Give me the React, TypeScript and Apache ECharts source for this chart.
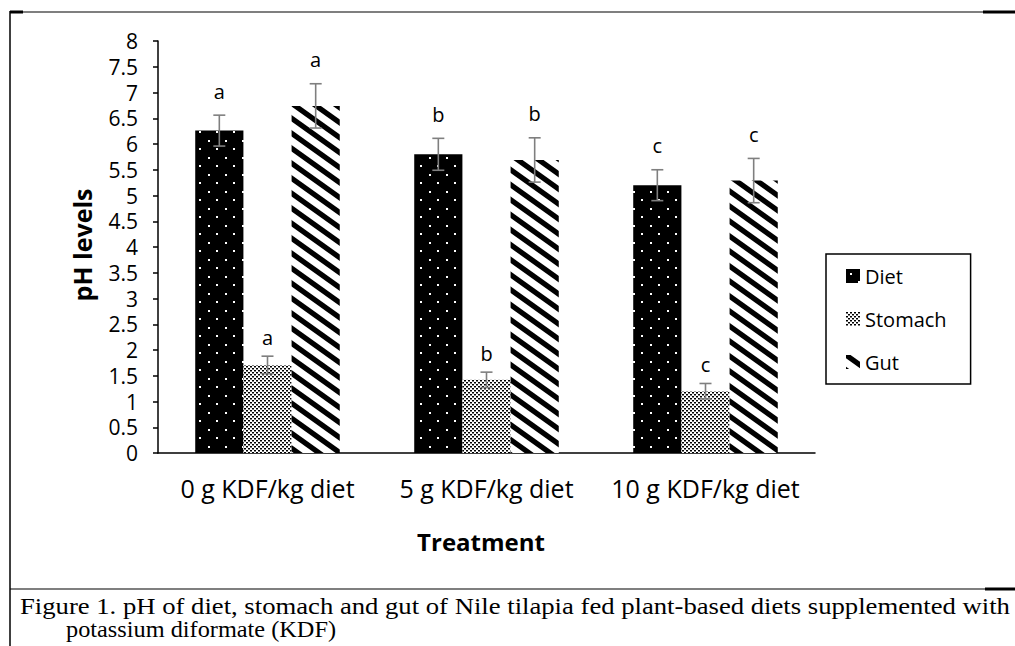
import React, { useEffect, useRef } from 'react';
import * as echarts from 'echarts';

const categories = ['0 g KDF/kg diet', '5 g KDF/kg diet', '10 g KDF/kg diet'];
const seriesNames = ['Diet', 'Stomach', 'Gut'];
const dietValues = [6.26, 5.8, 5.2];
const stomachValues = [1.71, 1.42, 1.2];
const gutValues = [6.74, 5.69, 5.29];
const dietErrors = [0.3, 0.31, 0.3];
const stomachErrors = [0.17, 0.15, 0.15];
const gutErrors = [0.43, 0.43, 0.43];
const dietLetters = ['a', 'b', 'c'];
const stomachLetters = ['a', 'b', 'c'];
const gutLetters = ['a', 'b', 'c'];
const yMin = 0;
const yMax = 8;
const yInterval = 0.5;
const yAxisTitle = 'pH levels';
const xAxisTitle = 'Treatment';
const captionLine1 = 'Figure 1. pH of diet, stomach and gut of Nile tilapia fed plant-based diets supplemented with';
const captionLine2 = 'potassium diformate (KDF)';

const BAR_CAT_GAP = 0.34;
const SANS = '"Open Sans", sans-serif';

function makeCanvas(w: number, h: number) {
  const c = document.createElement('canvas');
  c.width = w;
  c.height = h;
  return c;
}

function dietPattern() {
  const c = makeCanvas(17, 17);
  const ctx = c.getContext('2d')!;
  ctx.fillStyle = '#000';
  ctx.fillRect(0, 0, 17, 17);
  ctx.fillStyle = '#fff';
  ctx.fillRect(4, 4, 2, 2);
  ctx.fillRect(12, 12, 2, 2);
  return c;
}

function stomachPattern() {
  const c = makeCanvas(4, 4);
  const ctx = c.getContext('2d')!;
  ctx.fillStyle = '#fff';
  ctx.fillRect(0, 0, 4, 4);
  ctx.fillStyle = '#000';
  ctx.fillRect(0, 0, 2, 1.5);
  ctx.fillRect(2, 2, 2, 1.5);
  return c;
}

function gutPattern() {
  const w = 21;
  const h = 15;
  const t = 6.5;
  const c = makeCanvas(w, h);
  const ctx = c.getContext('2d')!;
  ctx.fillStyle = '#fff';
  ctx.fillRect(0, 0, w, h);
  ctx.fillStyle = '#000';
  for (let k = -1; k <= 1; k++) {
    ctx.beginPath();
    ctx.moveTo(0, k * h - t / 2);
    ctx.lineTo(w, h + k * h - t / 2);
    ctx.lineTo(w, h + k * h + t / 2);
    ctx.lineTo(0, k * h + t / 2);
    ctx.closePath();
    ctx.fill();
  }
  return c;
}

function measure(text: string, font: string) {
  const c = document.createElement('canvas');
  const ctx = c.getContext('2d')!;
  ctx.font = font;
  return ctx.measureText(text).width;
}

export default function App() {
  const ref = useRef<HTMLDivElement>(null);

  useEffect(() => {
    if (!ref.current) return;
    const chart = echarts.init(ref.current, undefined, { renderer: 'svg' });

    const patterns = [dietPattern(), stomachPattern(), gutPattern()];
    const values = [dietValues, stomachValues, gutValues];
    const errors = [dietErrors, stomachErrors, gutErrors];
    const letters = [dietLetters, stomachLetters, gutLetters];

    const barSeries = seriesNames.map((name, i) => ({
      name,
      type: 'bar',
      data: values[i],
      barGap: '0%',
      barCategoryGap: '34%',
      itemStyle: { color: { image: patterns[i], repeat: 'repeat' } },
      emphasis: { disabled: true },
      silent: true,
    }));

    const errSeries = seriesNames.map((name, i) => ({
      name: name + ' error',
      type: 'custom',
      silent: true,
      clip: false,
      z: 5,
      data: values[i].map((v, j) => [j, v, errors[i][j]]),
      renderItem: (params: any, api: any) => {
        const cat = api.value(0);
        const val = api.value(1);
        const err = api.value(2);
        const band = api.size([1, 0])[0];
        const barW = (band * (1 - BAR_CAT_GAP)) / 3;
        const cx = api.coord([cat, val])[0] + (i - 1) * barW;
        const top = api.coord([cat, val + err])[1];
        const bot = api.coord([cat, val - err])[1];
        const cap = 6;
        const st = { stroke: '#7f7f7f', lineWidth: 1.6 };
        return {
          type: 'group',
          children: [
            { type: 'line', shape: { x1: cx, y1: top, x2: cx, y2: bot }, style: st },
            { type: 'line', shape: { x1: cx - cap, y1: top, x2: cx + cap, y2: top }, style: st },
            { type: 'line', shape: { x1: cx - cap, y1: bot, x2: cx + cap, y2: bot }, style: st },
            {
              type: 'text',
              x: cx,
              y: top - (i === 1 ? 9 : 14),
              style: {
                text: letters[i][params.dataIndex],
                textAlign: 'center',
                textVerticalAlign: 'bottom',
                font: '20px ' + SANS,
                fill: '#000',
              },
            },
          ],
        };
      },
    }));

    const capFont = '23px "Liberation Serif", serif';
    const w1 = measure(captionLine1, capFont);
    const w2 = measure(captionLine2, capFont);
    const capScale1 = w1 > 0 ? 991 / w1 : 1;
    const capScale2 = w2 > 0 ? 270 / w2 : 1;

    chart.setOption({
      animation: false,
      backgroundColor: '#fff',
      grid: { left: 158, top: 41, width: 657, height: 412 },
      legend: {
        data: seriesNames,
        orient: 'vertical',
        left: 826,
        top: 254,
        itemWidth: 14,
        itemHeight: 14,
        itemGap: 23,
        icon: 'rect',
        padding: [12, 24, 12, 20],
        borderColor: '#000',
        borderWidth: 1.5,
        textStyle: { fontFamily: SANS, fontSize: 20, color: '#000' },
        selectedMode: false,
      },
      xAxis: {
        type: 'category',
        data: categories,
        axisLine: { lineStyle: { color: '#000', width: 1.5 } },
        axisTick: { length: 8, lineStyle: { color: '#000', width: 1.5 } },
        axisLabel: { interval: 0, fontFamily: SANS, fontSize: 25, color: '#000', margin: 22 },
      },
      yAxis: {
        type: 'value',
        min: yMin,
        max: yMax,
        interval: yInterval,
        splitLine: { show: false },
        axisLine: { show: true, lineStyle: { color: '#000', width: 1.5 } },
        axisTick: { show: true, length: 5, lineStyle: { color: '#000', width: 1.5 } },
        axisLabel: { fontFamily: SANS, fontSize: 21, color: '#000', margin: 20 },
      },
      series: [...barSeries, ...errSeries],
      graphic: [
        { type: 'line', shape: { x1: 10, y1: 11, x2: 10, y2: 646 }, style: { stroke: '#000', lineWidth: 1.5 } },
        { type: 'line', shape: { x1: 10, y1: 12, x2: 1015, y2: 12 }, style: { stroke: '#000', lineWidth: 1.2 } },
        { type: 'rect', shape: { x: 10, y: 10.5, width: 13, height: 3 }, style: { fill: '#000' } },
        { type: 'rect', shape: { x: 983, y: 10.5, width: 32, height: 3 }, style: { fill: '#000' } },
        { type: 'line', shape: { x1: 10, y1: 589, x2: 1015, y2: 589 }, style: { stroke: '#000', lineWidth: 1.2 } },
        { type: 'rect', shape: { x: 985, y: 587.5, width: 30, height: 3 }, style: { fill: '#000' } },
        {
          type: 'text',
          x: 82,
          y: 245,
          rotation: Math.PI / 2,
          style: {
            text: yAxisTitle,
            font: 'bold 25px ' + SANS,
            textAlign: 'center',
            textVerticalAlign: 'middle',
            fill: '#000',
          },
        },
        {
          type: 'text',
          x: 481,
          y: 541,
          style: {
            text: xAxisTitle,
            font: 'bold 24px ' + SANS,
            textAlign: 'center',
            textVerticalAlign: 'middle',
            fill: '#000',
          },
        },
        {
          type: 'text',
          x: 20,
          y: 606,
          scaleX: capScale1,
          style: { text: captionLine1, font: capFont, textAlign: 'left', textVerticalAlign: 'middle', fill: '#000' },
        },
        {
          type: 'text',
          x: 66,
          y: 629,
          scaleX: capScale2,
          style: { text: captionLine2, font: capFont, textAlign: 'left', textVerticalAlign: 'middle', fill: '#000' },
        },
      ],
    });

    return () => chart.dispose();
  }, []);

  return (
    <div
      ref={ref}
      style={{ position: 'fixed', left: 0, top: 0, width: 1015, height: 646, background: '#fff' }}
    />
  );
}
